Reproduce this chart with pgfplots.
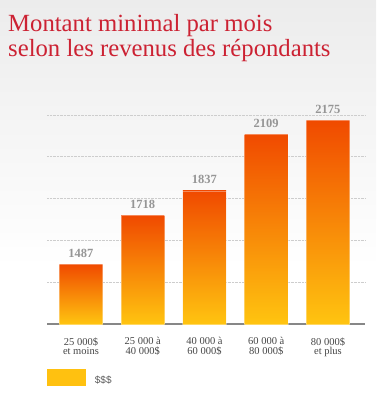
\documentclass[border=0pt]{standalone}
\usepackage{fontspec}
\setmainfont{Liberation Serif}
\newfontfamily\lsans{Liberation Sans}
\usepackage{pgfplots}
\pgfplotsset{compat=1.18}
\definecolor{titlered}{RGB}{204,34,51}
\definecolor{bartop}{RGB}{240,74,0}
\definecolor{barbot}{RGB}{255,196,16}
\definecolor{legyellow}{RGB}{255,193,16}
\definecolor{valgray}{RGB}{150,150,150}
\definecolor{tickgray}{RGB}{70,70,70}
\definecolor{leggray}{RGB}{90,90,90}
\definecolor{gridgray}{RGB}{205,205,205}
\definecolor{basegray}{RGB}{135,135,135}
\definecolor{bggray}{RGB}{236,236,236}
\begin{document}
\begin{tikzpicture}[x=1pt,y=1pt]
\useasboundingbox (0,0) rectangle (376,418);
\fill[white] (0,0) rectangle (376,418);
\shade[top color=bggray, bottom color=white] (0,150) rectangle (376,418);
\node[anchor=base west, inner sep=0pt, text=titlered, font=\fontsize{24.7}{28}\selectfont] at (8,386.3) {Montant minimal par mois};
\node[anchor=base west, inner sep=0pt, text=titlered, font=\fontsize{24.7}{28}\selectfont] at (8,361.3) {selon les revenus des répondants};
\begin{axis}[
  at={(47pt,94pt)}, anchor=south west,
  scale only axis, width=318pt, height=229.9pt,
  ybar, bar width=43.3pt,
  xmin=-0.55, xmax=4.6,
  ymin=1200, ymax=2300,
  y coord trafo/.code={\pgfmathparse{#1-1200}},
  y coord inv trafo/.code={\pgfmathparse{#1+1200}},
  axis x line*=bottom, axis y line*=left,
  x axis line style={draw=basegray, line width=1.3pt},
  y axis line style={draw=none},
  xtick={0,1,2,3,4},
  xticklabels={{25 000\$\\et moins},{25 000 à\\40 000\$},{40 000 à\\60 000\$},{60 000 à\\80 000\$},{80 000\$\\et plus}},
  xtick style={draw=none}, ytick style={draw=none},
  ytick={1400,1600,1800,2000,2200}, yticklabels={},
  ymajorgrids, major grid style={draw=gridgray, densely dotted, line width=0.8pt},
  xticklabel style={font=\fontsize{10.5}{9.5}\selectfont, text=tickgray, align=center, inner sep=0pt, anchor=north, yshift=-9pt},
  point meta=rawy,
  nodes near coords={\pgfmathprintnumber[1000 sep={},assume math mode=true]{\pgfplotspointmeta}},
  nodes near coords style={font=\fontsize{12.5}{14}\selectfont\bfseries, text=valgray, anchor=base, inner sep=0pt, yshift=7pt},
  legend style={at={(axis description cs:0,0)}, anchor=north west, yshift=-45pt, draw=none, fill=none, inner sep=0pt, font=\lsans\fontsize{10}{12}\selectfont, text=leggray, column sep=9.7pt, nodes={inner sep=0pt}},
  barstyle/.style={bar shift=0pt, top color=bartop, bottom color=barbot, draw=white, draw opacity=0.35, line width=0.7pt, forget plot},
]
\addplot[barstyle] coordinates {(0,1487)};
\addplot[barstyle] coordinates {(1,1718)};
\addplot[barstyle] coordinates {(2,1837)};
\addplot[barstyle] coordinates {(3,2109)};
\addplot[barstyle] coordinates {(4,2175)};
\addlegendimage{legend image code/.code={\fill[legyellow] (0pt,-4.5pt) rectangle (37.6pt,11.5pt);}}
\addlegendentry{\$\$\$}
\end{axis}
\end{tikzpicture}
\end{document}
